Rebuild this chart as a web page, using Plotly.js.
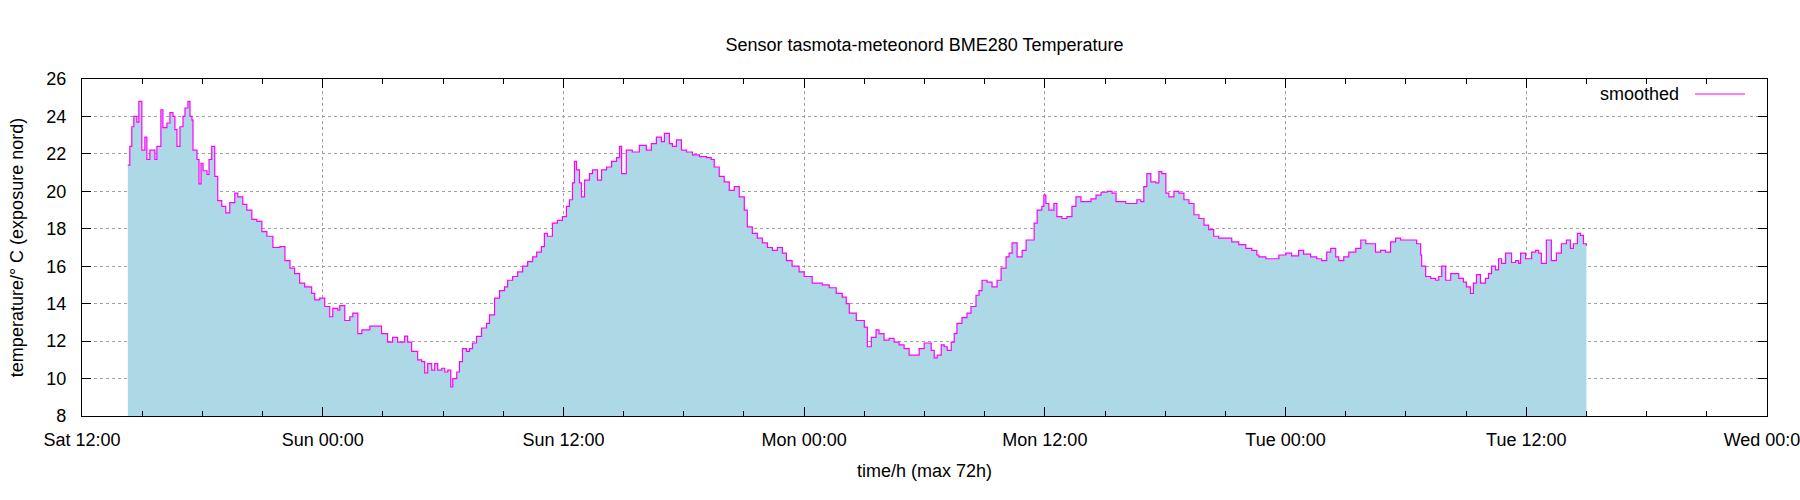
<!DOCTYPE html>
<html>
<head>
<meta charset="utf-8">
<script src="https://cdn.plot.ly/plotly-3.0.1.min.js"></script>
<style>html,body{margin:0;padding:0;background:#fff;}#chart{width:1800px;height:500px;}</style>
</head>
<body>
<div id="chart"></div>
<script>
// minutes after Sat 12:00
const minutes = [
137,143,149,155,164,170,179,188,194,203,
218,224,236,242,254,263,272,278,284,293,
302,308,317,323,329,332,344,350,356,362,
374,380,388,397,406,418,430,442,457,466,
481,493,508,523,538,553,571,592,607,622,
636,651,666,687,696,711,726,741,750,765,
771,786,801,810,825,837,852,861,881,896,
914,929,944,956,965,974,986,995,1004,1016,
1025,1034,1046,1055,1064,1076,1085,1094,1103,1109,
1121,1129,1138,1150,1159,1168,1180,1195,1210,1219,
1234,1249,1264,1273,1288,1303,1318,1333,1348,1360,
1374,1383,1392,1407,1422,1437,1449,1458,1467,1473,
1479,1488,1494,1503,1518,1527,1542,1554,1569,1584,
1599,1608,1614,1628,1646,1667,1688,1703,1718,1733,
1742,1757,1766,1778,1793,1808,1826,1847,1868,1882,
1891,1906,1921,1936,1951,1966,1981,1990,2005,2020,
2035,2050,2065,2080,2095,2107,2124,2145,2160,2175,
2184,2199,2214,2235,2256,2274,2286,2295,2316,2334,
2340,2349,2361,2375,2384,2399,2414,2429,2444,2459,
2474,2489,2504,2519,2528,2540,2549,2558,2570,2579,
2588,2600,2609,2617,2632,2647,2659,2674,2683,2692,
2707,2722,2737,2749,2764,2773,2782,2797,2812,2824,
2839,2848,2857,2871,2877,2883,2892,2907,2916,2931,
2946,2961,2973,2988,3003,3018,3033,3048,3066,3081,
3093,3108,3122,3140,3155,3167,3176,3185,3197,3212,
3221,3230,3242,3251,3266,3281,3296,3311,3326,3341,
3356,3370,3385,3400,3421,3439,3460,3481,3499,3514,
3520,3541,3559,3580,3601,3618,3639,3654,3675,3693,
3708,3723,3735,3750,3759,3774,3789,3810,3825,3840,
3855,3869,3884,3899,3914,3929,3944,3959,3977,3992,
4004,4007,4019,4034,4049,4058,4067,4079,4094,4109,
4118,4132,4141,4153,4162,4171,4183,4198,4207,4216,
4228,4237,4246,4258,4276,4288,4297,4303,4318,4336,
4348,4357,4365,4380,4395,4410,4425,4440,4452,4461,
4473,4482,4491,4500
];
// temperature in °C
const temperature = [
21.4,22.4,23.45,24.0,23.7,24.8,22.2,22.9,21.7,22.2,
21.7,22.4,24.35,23.4,23.65,24.2,24.0,23.3,22.4,23.45,
24.0,24.45,24.8,24.0,23.8,22.2,21.7,20.4,21.5,21.1,
20.9,21.7,22.4,20.8,19.5,19.2,18.85,19.4,19.9,19.7,
19.3,19.0,18.5,18.4,17.85,17.6,17.0,17.05,16.3,15.9,
15.6,15.1,14.9,14.55,14.2,14.3,13.85,13.3,13.75,13.65,
13.9,13.1,13.3,13.5,12.4,12.6,12.6,12.8,12.8,12.4,
11.95,12.2,11.95,11.95,12.27,11.95,11.45,11.45,11.0,10.9,
10.3,10.8,10.45,10.8,10.45,10.55,10.35,10.45,9.55,10.0,
10.35,10.9,11.6,11.45,11.6,11.9,12.25,12.7,12.95,13.4,
14.3,14.7,14.9,15.25,15.45,15.7,16.0,16.25,16.5,16.75,
17.05,17.75,17.6,18.3,18.45,18.65,19.2,19.55,20.45,21.6,
21.15,20.45,19.7,20.6,20.95,21.15,20.6,21.15,21.3,21.6,
21.8,22.4,20.95,22.2,22.1,22.45,22.2,22.55,22.9,22.65,
23.1,22.55,22.4,22.75,22.2,22.1,21.95,21.85,21.8,21.7,
21.3,20.8,20.5,20.05,20.25,19.7,19.0,18.1,17.75,17.5,
17.25,17.0,16.85,17.0,16.7,16.3,16.0,15.7,15.45,15.45,
15.1,15.1,15.0,14.85,14.55,14.35,14.0,13.5,13.1,13.1,
12.75,11.7,12.2,12.6,12.4,12.05,12.15,11.95,11.8,11.6,
11.25,11.25,11.6,11.9,11.9,11.5,11.1,11.25,11.8,11.7,
11.5,11.95,12.4,12.95,13.25,13.5,13.85,14.45,14.7,15.25,
15.15,14.9,15.25,15.9,16.5,16.7,17.25,16.5,16.85,17.4,
17.4,18.3,19.0,19.2,19.8,19.35,19.0,19.35,18.65,18.55,
18.65,19.2,19.7,19.45,19.45,19.6,19.8,19.95,20.0,19.9,
19.45,19.45,19.35,19.35,19.55,19.45,20.25,20.95,20.5,20.45,
21.05,20.95,19.9,19.7,20.0,19.9,19.55,19.35,18.75,18.55,
18.2,17.95,17.6,17.5,17.5,17.3,17.15,16.95,16.85,16.6,
16.5,16.4,16.4,16.6,16.7,16.55,16.85,16.65,16.5,16.4,
16.3,16.75,16.95,16.5,16.3,16.5,16.75,16.95,17.4,17.2,
17.2,16.75,16.85,16.75,17.3,17.5,17.4,17.4,17.4,17.2,
16.6,16.0,15.45,15.35,15.25,15.45,16.0,15.25,15.6,15.6,
15.35,15.15,14.9,14.55,15.1,15.55,15.1,15.35,15.6,16.0,
15.8,16.4,16.15,16.7,16.2,16.3,16.15,16.7,16.4,16.75,
16.85,16.7,16.15,17.4,16.3,16.7,17.2,17.4,16.95,17.2,
17.75,17.65,17.2,17.1
];
const yTicks = [8,10,12,14,16,18,20,22,24,26];
const seriesName = "smoothed";

const t0 = Date.UTC(2024, 2, 16, 12, 0, 0); // Saturday 12:00
function fmt(ms){ return new Date(ms).toISOString().slice(0,19).replace('T',' '); }
const n = Math.min(minutes.length, temperature.length);
const xs = [], ys = [];
for (let i = 0; i < n; i++) { xs.push(fmt(t0 + minutes[i]*60000)); ys.push(temperature[i]); }

const FONT = "Liberation Sans, Arial, sans-serif";
const FS = 18;
const fillTrace = {
  x: xs, y: ys, type: 'scatter', mode: 'lines',
  line: {width: 0, shape: 'hv', color: '#add8e6'},
  fill: 'tozeroy', fillcolor: '#add8e6',
  showlegend: false, hoverinfo: 'skip'
};
const lineTrace = {
  x: xs, y: ys, type: 'scatter', mode: 'lines', name: seriesName,
  line: {width: 1.2, shape: 'hv', color: '#ff00ff'},
  showlegend: false
};

const L = 82, R = 1767, T = 79, B = 416;
const layout = {
  width: 1800, height: 500,
  margin: {l: L, r: 1800 - R, t: T, b: 500 - B, pad: 0},
  paper_bgcolor: '#fff', plot_bgcolor: '#fff',
  font: {family: FONT, size: FS, color: '#000'},
  title: {text: 'Sensor tasmota-meteonord BME280 Temperature', x: 0.5, xref: 'paper', xanchor: 'center',
          y: 1 - 45/500, yref: 'container', yanchor: 'middle', font: {family: FONT, size: FS, color: '#000'}},
  xaxis: {
    type: 'date', range: [fmt(t0), fmt(t0 + 84*3600000)],
    tick0: fmt(t0), dtick: 12*3600000, tickformat: '%a %H:%M',
    ticks: 'inside', ticklen: 9, tickwidth: 1, tickcolor: '#000',
    showline: true, linecolor: '#000', linewidth: 1.2, mirror: 'ticks',
    showgrid: true, gridcolor: '#a0a0a0', griddash: '3px,3px', gridwidth: 1,
    minor: {dtick: 3*3600000, ticks: 'inside', ticklen: 5, tickcolor: '#000', showgrid: false},
    zeroline: false, ticklabelstandoff: 7, ticklabeloverflow: 'allow',
    tickfont: {family: FONT, size: FS, color: '#000'},
    title: {text: 'time/h (max 72h)', standoff: 15, font: {family: FONT, size: FS, color: '#000'}}
  },
  yaxis: {
    range: [8, 26], tickvals: yTicks, ticktext: yTicks.map(String),
    ticks: 'inside', ticklen: 9, tickwidth: 1, tickcolor: '#000',
    showline: true, linecolor: '#000', linewidth: 1.2, mirror: 'ticks',
    showgrid: true, gridcolor: '#a0a0a0', griddash: '3px,3px', gridwidth: 1,
    zeroline: false, ticklabelstandoff: 11,
    tickfont: {family: FONT, size: FS, color: '#000'},
    title: {text: 'temperature/° C (exposure nord)', standoff: 17, font: {family: FONT, size: FS, color: '#000'}}
  },
  showlegend: false,
  annotations: [{
    xref: 'paper', yref: 'paper', x: (1681 - L)/(R - L), y: (B - 94)/(B - T),
    xanchor: 'right', yanchor: 'middle', showarrow: false, text: seriesName,
    font: {family: FONT, size: FS, color: '#000'}
  }],
  shapes: [{
    type: 'line', xref: 'paper', yref: 'paper',
    x0: (1695 - L)/(R - L), x1: (1745 - L)/(R - L),
    y0: (B - 94)/(B - T), y1: (B - 94)/(B - T),
    line: {color: '#ff00ff', width: 1.2}
  }]
};

Plotly.newPlot('chart', [fillTrace, lineTrace], layout, {staticPlot: true, displayModeBar: false});
</script>
</body>
</html>
